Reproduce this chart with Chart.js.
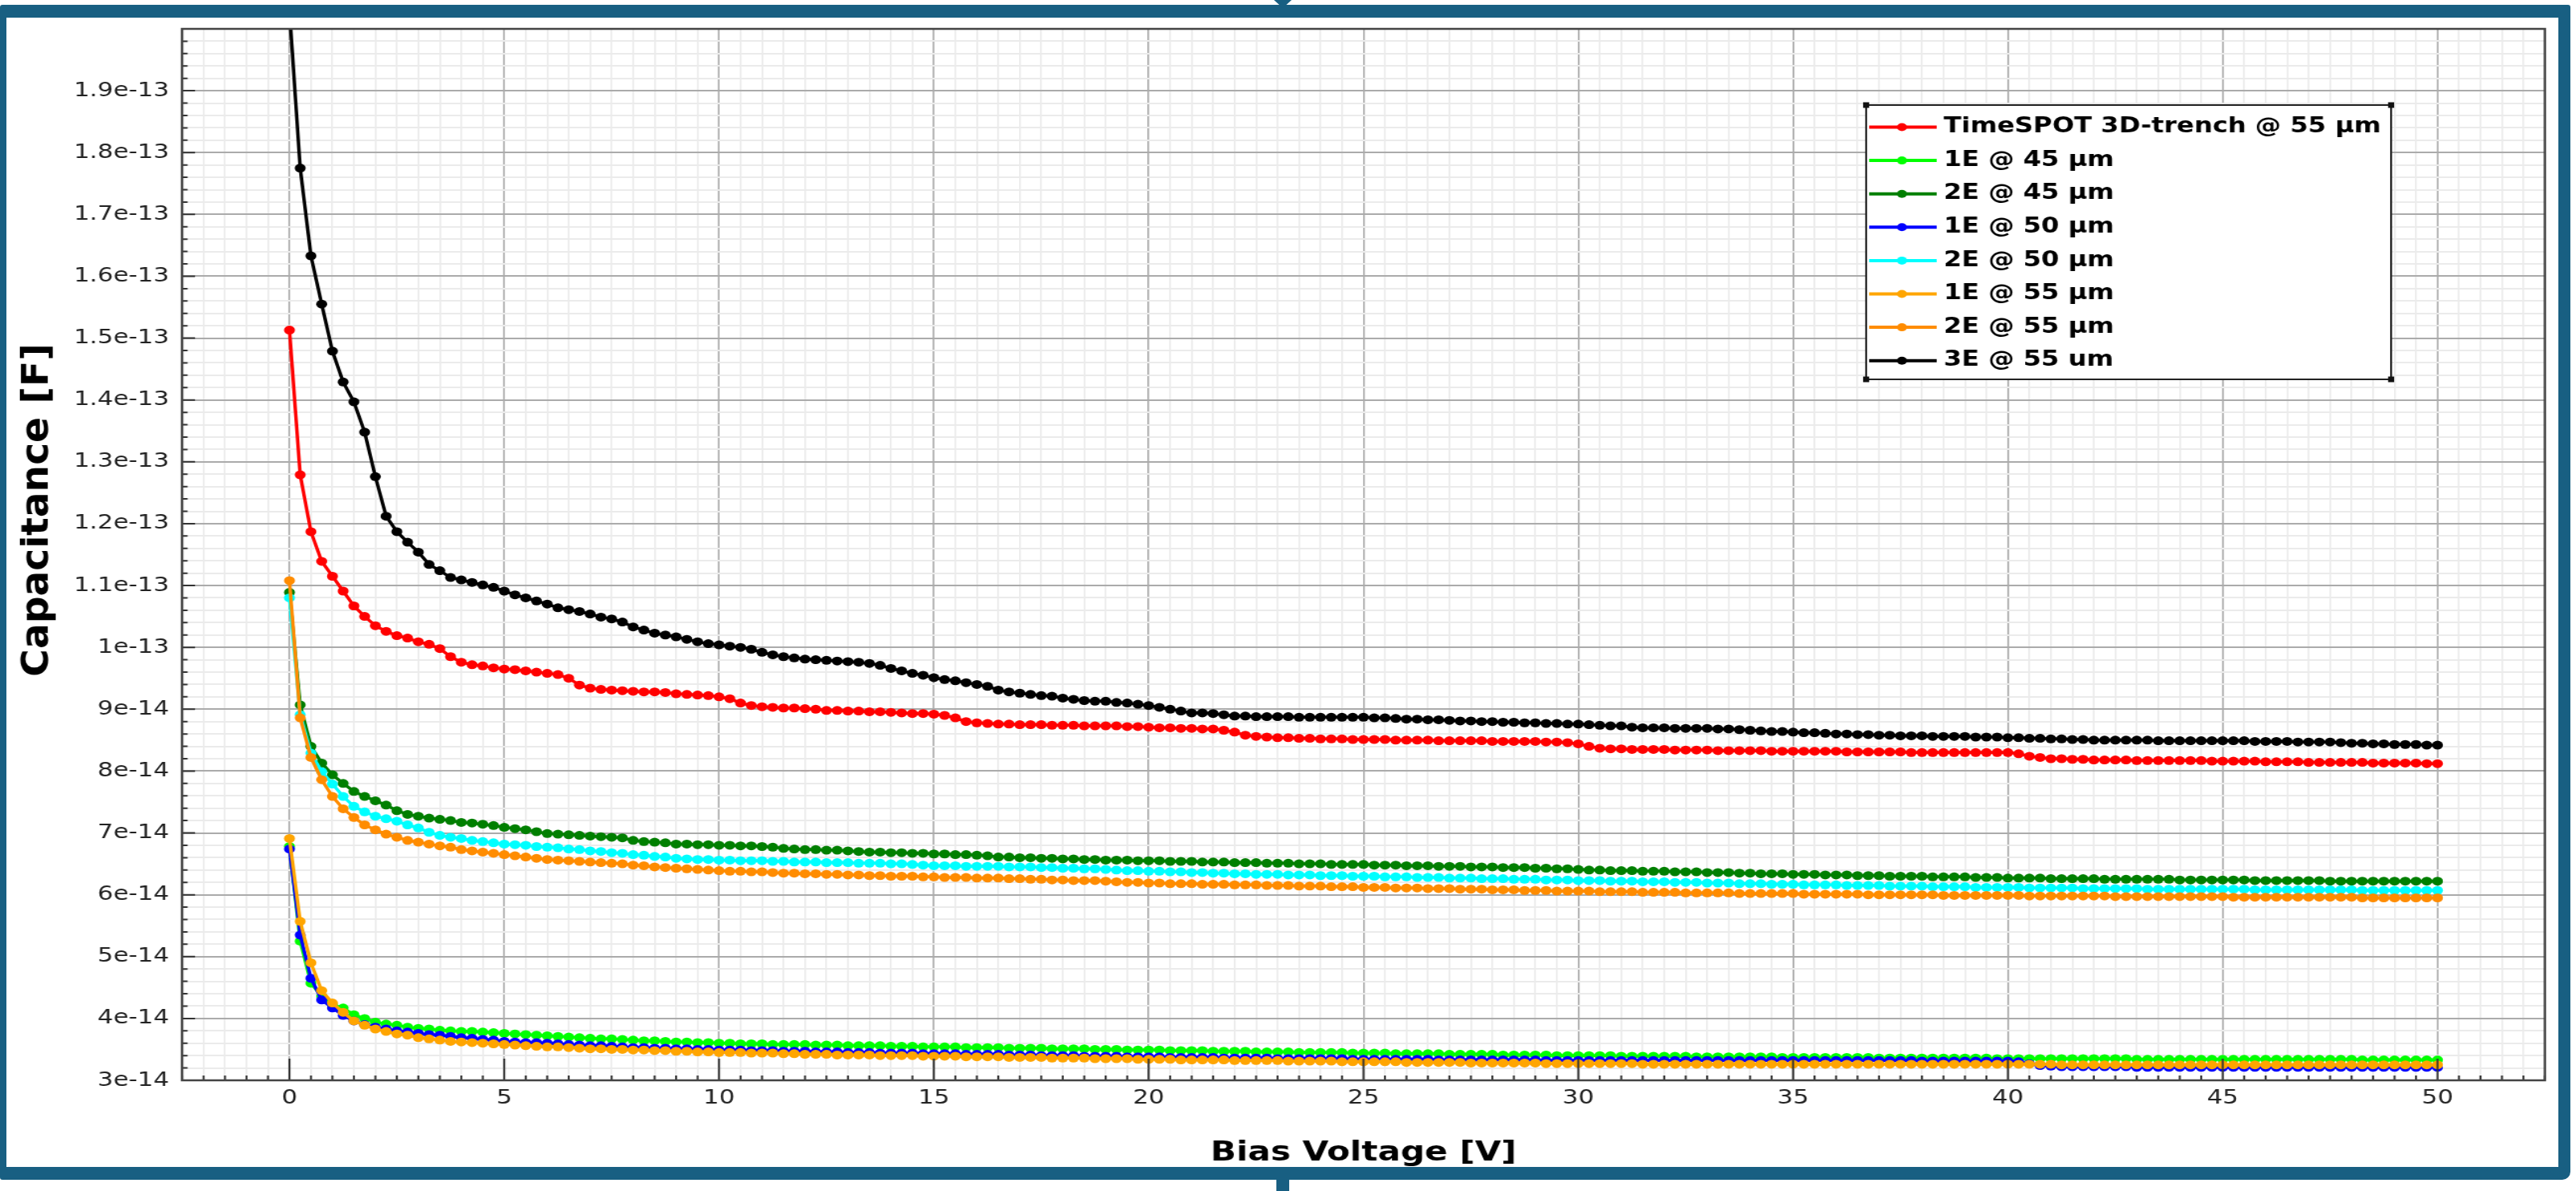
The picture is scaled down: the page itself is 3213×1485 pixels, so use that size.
<!DOCTYPE html>
<html>
<head>
<meta charset="utf-8">
<title>Capacitance vs Bias Voltage</title>
<script src="https://cdn.jsdelivr.net/npm/chart.js@4.4.1/dist/chart.umd.min.js"></script>
<style>
  html, body { margin: 0; padding: 0; background: #fff; overflow: hidden; }
  #wrap { position: relative; width: 3213px; height: 1485px; }
  #myChart { position: absolute; left: 0; top: 0; }
  .frame { position: absolute; left: 0; top: 6px; width: 3206px; height: 1465px; box-sizing: border-box;
           border-style: solid; border-color: #185f82; border-width: 16px 15px 16px 8px;
           border-radius: 3px 3px 10px 3px; pointer-events: none; }
  .tab { position: absolute; left: 1589px; top: 0; width: 0; height: 0;
         border-left: 11px solid transparent; border-right: 11px solid transparent; border-top: 10px solid #185f82; }
  .stub { position: absolute; left: 1592px; top: 1466px; width: 16px; height: 19px; background: #185f82; }
</style>
</head>
<body>
<div id="wrap">
  <canvas id="myChart" width="2591" height="1485" style="width:3213px;height:1485px"></canvas>
  <div class="frame"></div>
  <div class="tab"></div>
  <div class="stub"></div>
</div>
<script>
// Bias voltage steps [V]
const voltage = [
  0, 0.25, 0.5, 0.75, 1, 1.25, 1.5, 1.75, 2, 2.25, 2.5, 2.75, 3, 3.25, 3.5, 3.75, 4, 4.25, 4.5, 4.75,
  5, 5.25, 5.5, 5.75, 6, 6.25, 6.5, 6.75, 7, 7.25, 7.5, 7.75, 8, 8.25, 8.5, 8.75, 9, 9.25, 9.5, 9.75,
  10, 10.25, 10.5, 10.75, 11, 11.25, 11.5, 11.75, 12, 12.25, 12.5, 12.75, 13, 13.25, 13.5, 13.75, 14, 14.25, 14.5, 14.75,
  15, 15.25, 15.5, 15.75, 16, 16.25, 16.5, 16.75, 17, 17.25, 17.5, 17.75, 18, 18.25, 18.5, 18.75, 19, 19.25, 19.5, 19.75,
  20, 20.25, 20.5, 20.75, 21, 21.25, 21.5, 21.75, 22, 22.25, 22.5, 22.75, 23, 23.25, 23.5, 23.75, 24, 24.25, 24.5, 24.75,
  25, 25.25, 25.5, 25.75, 26, 26.25, 26.5, 26.75, 27, 27.25, 27.5, 27.75, 28, 28.25, 28.5, 28.75, 29, 29.25, 29.5, 29.75,
  30, 30.25, 30.5, 30.75, 31, 31.25, 31.5, 31.75, 32, 32.25, 32.5, 32.75, 33, 33.25, 33.5, 33.75, 34, 34.25, 34.5, 34.75,
  35, 35.25, 35.5, 35.75, 36, 36.25, 36.5, 36.75, 37, 37.25, 37.5, 37.75, 38, 38.25, 38.5, 38.75, 39, 39.25, 39.5, 39.75,
  40, 40.25, 40.5, 40.75, 41, 41.25, 41.5, 41.75, 42, 42.25, 42.5, 42.75, 43, 43.25, 43.5, 43.75, 44, 44.25, 44.5, 44.75,
  45, 45.25, 45.5, 45.75, 46, 46.25, 46.5, 46.75, 47, 47.25, 47.5, 47.75, 48, 48.25, 48.5, 48.75, 49, 49.25, 49.5, 49.75,
  50
];

// Capacitance values, in units of 1e-14 F
const timespot55 = [
  15.13, 12.79, 11.87, 11.39, 11.15, 10.91, 10.67, 10.50, 10.35, 10.26, 10.19, 10.15, 10.09, 10.05, 9.98, 9.85, 9.76, 9.72, 9.70, 9.67,
  9.65, 9.64, 9.62, 9.60, 9.58, 9.56, 9.50, 9.39, 9.34, 9.32, 9.31, 9.30, 9.29, 9.28, 9.28, 9.27, 9.25, 9.24, 9.23, 9.22,
  9.20, 9.17, 9.10, 9.06, 9.04, 9.03, 9.02, 9.02, 9.01, 9.00, 8.98, 8.98, 8.97, 8.97, 8.96, 8.96, 8.95, 8.94, 8.93, 8.93,
  8.92, 8.90, 8.86, 8.80, 8.78, 8.77, 8.76, 8.76, 8.75, 8.75, 8.75, 8.74, 8.74, 8.74, 8.73, 8.73, 8.73, 8.73, 8.72, 8.72,
  8.71, 8.70, 8.70, 8.69, 8.69, 8.68, 8.68, 8.66, 8.63, 8.58, 8.56, 8.55, 8.54, 8.54, 8.53, 8.53, 8.52, 8.52, 8.52, 8.51,
  8.51, 8.51, 8.51, 8.50, 8.50, 8.50, 8.50, 8.49, 8.49, 8.49, 8.49, 8.49, 8.48, 8.48, 8.48, 8.48, 8.48, 8.47, 8.47, 8.46,
  8.44, 8.40, 8.37, 8.36, 8.36, 8.35, 8.35, 8.35, 8.35, 8.34, 8.34, 8.34, 8.34, 8.33, 8.33, 8.33, 8.33, 8.33, 8.32, 8.32,
  8.32, 8.32, 8.32, 8.32, 8.32, 8.31, 8.31, 8.31, 8.31, 8.31, 8.31, 8.30, 8.30, 8.30, 8.30, 8.30, 8.30, 8.30, 8.30, 8.30,
  8.30, 8.28, 8.24, 8.22, 8.20, 8.20, 8.19, 8.19, 8.18, 8.18, 8.18, 8.18, 8.17, 8.17, 8.17, 8.17, 8.17, 8.17, 8.17, 8.16,
  8.16, 8.16, 8.16, 8.16, 8.15, 8.15, 8.15, 8.15, 8.14, 8.14, 8.14, 8.14, 8.14, 8.14, 8.13, 8.13, 8.13, 8.13, 8.13, 8.12,
  8.12
];
const e1at45 = [
  6.78, 5.25, 4.57, 4.36, 4.22, 4.17, 4.06, 4.00, 3.94, 3.91, 3.89, 3.86, 3.84, 3.83, 3.81, 3.80, 3.79, 3.79, 3.78, 3.77,
  3.76, 3.75, 3.74, 3.73, 3.72, 3.71, 3.70, 3.69, 3.68, 3.67, 3.67, 3.66, 3.65, 3.64, 3.64, 3.63, 3.62, 3.62, 3.61, 3.61,
  3.60, 3.60, 3.59, 3.59, 3.59, 3.58, 3.58, 3.58, 3.58, 3.57, 3.57, 3.57, 3.56, 3.56, 3.56, 3.56, 3.55, 3.55, 3.55, 3.54,
  3.54, 3.54, 3.54, 3.53, 3.53, 3.53, 3.53, 3.52, 3.52, 3.52, 3.52, 3.51, 3.51, 3.51, 3.51, 3.50, 3.50, 3.50, 3.49, 3.49,
  3.49, 3.49, 3.48, 3.48, 3.48, 3.48, 3.47, 3.47, 3.47, 3.47, 3.46, 3.46, 3.46, 3.46, 3.45, 3.45, 3.45, 3.45, 3.45, 3.44,
  3.44, 3.44, 3.44, 3.43, 3.43, 3.43, 3.43, 3.43, 3.42, 3.42, 3.42, 3.42, 3.42, 3.41, 3.41, 3.41, 3.41, 3.41, 3.40, 3.40,
  3.40, 3.40, 3.40, 3.40, 3.39, 3.39, 3.39, 3.39, 3.39, 3.39, 3.39, 3.38, 3.38, 3.38, 3.38, 3.38, 3.38, 3.38, 3.38, 3.37,
  3.37, 3.37, 3.37, 3.37, 3.37, 3.37, 3.37, 3.37, 3.36, 3.36, 3.36, 3.36, 3.36, 3.36, 3.36, 3.36, 3.36, 3.36, 3.36, 3.35,
  3.35, 3.35, 3.35, 3.35, 3.35, 3.35, 3.35, 3.35, 3.35, 3.35, 3.35, 3.35, 3.34, 3.34, 3.34, 3.34, 3.34, 3.34, 3.34, 3.34,
  3.34, 3.34, 3.34, 3.34, 3.34, 3.34, 3.34, 3.34, 3.34, 3.34, 3.34, 3.34, 3.34, 3.33, 3.33, 3.33, 3.33, 3.33, 3.33, 3.33,
  3.33
];
const e2at45 = [
  10.89, 9.07, 8.40, 8.13, 7.94, 7.80, 7.67, 7.59, 7.52, 7.45, 7.36, 7.30, 7.27, 7.24, 7.22, 7.20, 7.17, 7.16, 7.14, 7.12,
  7.09, 7.07, 7.05, 7.02, 6.99, 6.98, 6.97, 6.96, 6.95, 6.94, 6.93, 6.92, 6.88, 6.86, 6.85, 6.84, 6.82, 6.82, 6.81, 6.81,
  6.80, 6.80, 6.79, 6.79, 6.78, 6.77, 6.75, 6.74, 6.73, 6.73, 6.72, 6.72, 6.71, 6.70, 6.69, 6.69, 6.68, 6.68, 6.67, 6.67,
  6.66, 6.66, 6.65, 6.65, 6.64, 6.63, 6.61, 6.61, 6.60, 6.60, 6.59, 6.59, 6.58, 6.58, 6.57, 6.57, 6.56, 6.56, 6.56, 6.55,
  6.55, 6.55, 6.54, 6.54, 6.54, 6.53, 6.53, 6.53, 6.52, 6.52, 6.52, 6.51, 6.51, 6.51, 6.50, 6.50, 6.50, 6.49, 6.49, 6.49,
  6.49, 6.48, 6.48, 6.48, 6.47, 6.47, 6.47, 6.46, 6.46, 6.46, 6.45, 6.45, 6.45, 6.44, 6.44, 6.44, 6.43, 6.43, 6.42, 6.42,
  6.41, 6.40, 6.40, 6.39, 6.39, 6.39, 6.38, 6.38, 6.38, 6.37, 6.37, 6.37, 6.36, 6.36, 6.36, 6.35, 6.35, 6.34, 6.34, 6.34,
  6.33, 6.33, 6.33, 6.32, 6.32, 6.32, 6.31, 6.31, 6.31, 6.30, 6.30, 6.30, 6.30, 6.29, 6.29, 6.29, 6.29, 6.28, 6.28, 6.28,
  6.27, 6.27, 6.27, 6.27, 6.26, 6.26, 6.26, 6.26, 6.26, 6.25, 6.25, 6.25, 6.25, 6.25, 6.25, 6.25, 6.24, 6.24, 6.24, 6.24,
  6.24, 6.24, 6.24, 6.23, 6.23, 6.23, 6.23, 6.23, 6.23, 6.23, 6.22, 6.22, 6.22, 6.22, 6.22, 6.22, 6.22, 6.22, 6.22, 6.22,
  6.22
];
const e1at50 = [
  6.74, 5.35, 4.65, 4.30, 4.17, 4.05, 3.96, 3.90, 3.86, 3.83, 3.80, 3.78, 3.76, 3.74, 3.73, 3.71, 3.69, 3.68, 3.66, 3.65,
  3.63, 3.62, 3.61, 3.61, 3.60, 3.59, 3.58, 3.57, 3.56, 3.56, 3.55, 3.54, 3.53, 3.53, 3.52, 3.52, 3.51, 3.51, 3.50, 3.50,
  3.49, 3.49, 3.49, 3.48, 3.48, 3.48, 3.47, 3.47, 3.47, 3.46, 3.46, 3.46, 3.45, 3.45, 3.45, 3.44, 3.44, 3.44, 3.44, 3.43,
  3.43, 3.43, 3.43, 3.42, 3.42, 3.42, 3.42, 3.41, 3.41, 3.41, 3.40, 3.40, 3.40, 3.40, 3.39, 3.39, 3.39, 3.39, 3.38, 3.38,
  3.38, 3.38, 3.37, 3.37, 3.37, 3.37, 3.37, 3.36, 3.36, 3.36, 3.36, 3.36, 3.35, 3.35, 3.35, 3.35, 3.35, 3.35, 3.35, 3.34,
  3.34, 3.34, 3.34, 3.34, 3.34, 3.34, 3.34, 3.33, 3.33, 3.33, 3.33, 3.33, 3.33, 3.33, 3.33, 3.33, 3.33, 3.32, 3.32, 3.32,
  3.32, 3.32, 3.32, 3.32, 3.32, 3.32, 3.32, 3.32, 3.32, 3.32, 3.32, 3.32, 3.32, 3.32, 3.32, 3.32, 3.32, 3.32, 3.32, 3.32,
  3.32, 3.32, 3.32, 3.32, 3.32, 3.32, 3.32, 3.32, 3.32, 3.32, 3.32, 3.32, 3.31, 3.31, 3.31, 3.31, 3.31, 3.31, 3.31, 3.31,
  3.31, 3.30, 3.27, 3.24, 3.23, 3.22, 3.22, 3.22, 3.22, 3.22, 3.22, 3.22, 3.21, 3.21, 3.21, 3.21, 3.21, 3.21, 3.21, 3.21,
  3.21, 3.21, 3.21, 3.21, 3.21, 3.21, 3.21, 3.21, 3.21, 3.21, 3.21, 3.21, 3.21, 3.21, 3.21, 3.21, 3.21, 3.21, 3.21, 3.21,
  3.21
];
const e2at50 = [
  10.80, 8.91, 8.29, 7.99, 7.79, 7.59, 7.43, 7.34, 7.27, 7.23, 7.19, 7.13, 7.08, 7.01, 6.96, 6.93, 6.91, 6.88, 6.86, 6.84,
  6.82, 6.81, 6.80, 6.78, 6.77, 6.76, 6.74, 6.73, 6.71, 6.70, 6.68, 6.67, 6.65, 6.64, 6.62, 6.61, 6.59, 6.58, 6.57, 6.57,
  6.56, 6.56, 6.55, 6.55, 6.55, 6.54, 6.54, 6.53, 6.53, 6.53, 6.52, 6.52, 6.52, 6.51, 6.51, 6.51, 6.50, 6.50, 6.49, 6.48,
  6.47, 6.47, 6.47, 6.46, 6.46, 6.46, 6.46, 6.45, 6.45, 6.45, 6.44, 6.44, 6.43, 6.43, 6.42, 6.42, 6.41, 6.40, 6.39, 6.39,
  6.38, 6.38, 6.37, 6.37, 6.36, 6.36, 6.35, 6.35, 6.34, 6.34, 6.33, 6.33, 6.33, 6.32, 6.32, 6.32, 6.31, 6.31, 6.31, 6.30,
  6.30, 6.30, 6.29, 6.29, 6.29, 6.28, 6.28, 6.28, 6.27, 6.27, 6.27, 6.26, 6.26, 6.26, 6.25, 6.25, 6.25, 6.24, 6.24, 6.24,
  6.23, 6.23, 6.23, 6.22, 6.22, 6.22, 6.21, 6.21, 6.21, 6.20, 6.20, 6.20, 6.19, 6.19, 6.19, 6.18, 6.18, 6.18, 6.17, 6.17,
  6.17, 6.16, 6.16, 6.16, 6.16, 6.15, 6.15, 6.15, 6.15, 6.14, 6.14, 6.14, 6.14, 6.13, 6.13, 6.13, 6.13, 6.12, 6.12, 6.12,
  6.12, 6.12, 6.11, 6.11, 6.11, 6.11, 6.11, 6.10, 6.10, 6.10, 6.10, 6.10, 6.10, 6.09, 6.09, 6.09, 6.09, 6.09, 6.09, 6.09,
  6.09, 6.09, 6.09, 6.08, 6.08, 6.08, 6.08, 6.08, 6.08, 6.08, 6.08, 6.08, 6.08, 6.07, 6.07, 6.07, 6.07, 6.07, 6.07, 6.07,
  6.07
];
const e1at55 = [
  6.91, 5.57, 4.90, 4.45, 4.25, 4.10, 3.96, 3.89, 3.83, 3.79, 3.75, 3.73, 3.69, 3.67, 3.65, 3.63, 3.62, 3.61, 3.60, 3.59,
  3.58, 3.57, 3.56, 3.55, 3.54, 3.54, 3.53, 3.52, 3.51, 3.51, 3.50, 3.50, 3.49, 3.49, 3.48, 3.48, 3.47, 3.47, 3.46, 3.46,
  3.45, 3.45, 3.45, 3.44, 3.44, 3.44, 3.43, 3.43, 3.42, 3.42, 3.42, 3.41, 3.41, 3.41, 3.41, 3.40, 3.40, 3.40, 3.40, 3.39,
  3.39, 3.39, 3.39, 3.38, 3.38, 3.38, 3.38, 3.37, 3.37, 3.37, 3.37, 3.36, 3.36, 3.36, 3.36, 3.35, 3.35, 3.35, 3.35, 3.34,
  3.34, 3.34, 3.34, 3.33, 3.33, 3.33, 3.33, 3.33, 3.32, 3.32, 3.32, 3.32, 3.32, 3.31, 3.31, 3.31, 3.31, 3.31, 3.30, 3.30,
  3.30, 3.30, 3.30, 3.30, 3.29, 3.29, 3.29, 3.29, 3.29, 3.29, 3.28, 3.28, 3.28, 3.28, 3.28, 3.28, 3.28, 3.27, 3.27, 3.27,
  3.27, 3.27, 3.27, 3.27, 3.27, 3.27, 3.26, 3.26, 3.26, 3.26, 3.26, 3.26, 3.26, 3.26, 3.26, 3.26, 3.26, 3.26, 3.26, 3.26,
  3.26, 3.26, 3.26, 3.26, 3.26, 3.26, 3.26, 3.26, 3.26, 3.26, 3.26, 3.26, 3.26, 3.26, 3.26, 3.26, 3.26, 3.26, 3.26, 3.26,
  3.26, 3.26, 3.26, 3.26, 3.26, 3.25, 3.25, 3.25, 3.25, 3.25, 3.25, 3.25, 3.25, 3.25, 3.25, 3.25, 3.25, 3.25, 3.25, 3.25,
  3.25, 3.25, 3.25, 3.25, 3.25, 3.25, 3.25, 3.25, 3.25, 3.25, 3.25, 3.25, 3.25, 3.25, 3.25, 3.25, 3.25, 3.25, 3.25, 3.25,
  3.25
];
const e2at55 = [
  11.08, 8.86, 8.22, 7.86, 7.59, 7.39, 7.25, 7.13, 7.05, 6.98, 6.93, 6.88, 6.85, 6.82, 6.79, 6.77, 6.73, 6.71, 6.69, 6.67,
  6.65, 6.63, 6.61, 6.59, 6.57, 6.56, 6.55, 6.54, 6.53, 6.52, 6.51, 6.50, 6.48, 6.47, 6.45, 6.44, 6.43, 6.42, 6.41, 6.40,
  6.39, 6.38, 6.38, 6.37, 6.37, 6.36, 6.35, 6.35, 6.34, 6.34, 6.33, 6.33, 6.32, 6.32, 6.31, 6.31, 6.30, 6.30, 6.30, 6.29,
  6.29, 6.28, 6.28, 6.28, 6.27, 6.27, 6.27, 6.26, 6.26, 6.25, 6.25, 6.24, 6.24, 6.23, 6.23, 6.23, 6.22, 6.21, 6.20, 6.20,
  6.19, 6.19, 6.18, 6.18, 6.18, 6.17, 6.17, 6.17, 6.16, 6.16, 6.16, 6.15, 6.15, 6.15, 6.14, 6.14, 6.14, 6.13, 6.13, 6.13,
  6.12, 6.12, 6.12, 6.11, 6.11, 6.11, 6.10, 6.10, 6.10, 6.09, 6.09, 6.09, 6.08, 6.08, 6.08, 6.07, 6.07, 6.07, 6.06, 6.06,
  6.06, 6.06, 6.05, 6.05, 6.05, 6.05, 6.04, 6.04, 6.04, 6.04, 6.03, 6.03, 6.03, 6.03, 6.03, 6.02, 6.02, 6.02, 6.02, 6.02,
  6.02, 6.01, 6.01, 6.01, 6.01, 6.01, 6.01, 6.00, 6.00, 6.00, 6.00, 6.00, 6.00, 6.00, 5.99, 5.99, 5.99, 5.99, 5.99, 5.99,
  5.99, 5.99, 5.98, 5.98, 5.98, 5.98, 5.98, 5.98, 5.98, 5.98, 5.97, 5.97, 5.97, 5.97, 5.97, 5.97, 5.97, 5.97, 5.97, 5.97,
  5.97, 5.96, 5.96, 5.96, 5.96, 5.96, 5.96, 5.96, 5.96, 5.96, 5.96, 5.96, 5.96, 5.95, 5.95, 5.95, 5.95, 5.95, 5.95, 5.95,
  5.95
];
const e3at55 = [
  20.30, 17.75, 16.33, 15.55, 14.79, 14.29, 13.97, 13.48, 12.76, 12.12, 11.87, 11.70, 11.54, 11.34, 11.24, 11.13, 11.09, 11.05, 11.01, 10.97,
  10.91, 10.85, 10.80, 10.75, 10.70, 10.64, 10.61, 10.58, 10.54, 10.49, 10.46, 10.41, 10.33, 10.28, 10.23, 10.20, 10.17, 10.13, 10.09, 10.06,
  10.04, 10.02, 10.00, 9.97, 9.92, 9.88, 9.85, 9.83, 9.81, 9.80, 9.79, 9.78, 9.77, 9.76, 9.74, 9.71, 9.66, 9.62, 9.58, 9.55,
  9.51, 9.48, 9.46, 9.43, 9.40, 9.37, 9.31, 9.28, 9.26, 9.24, 9.22, 9.21, 9.18, 9.16, 9.14, 9.13, 9.13, 9.11, 9.10, 9.08,
  9.06, 9.03, 9.00, 8.97, 8.94, 8.94, 8.93, 8.91, 8.89, 8.89, 8.88, 8.88, 8.88, 8.88, 8.87, 8.87, 8.87, 8.87, 8.87, 8.87,
  8.87, 8.86, 8.86, 8.85, 8.84, 8.84, 8.83, 8.83, 8.82, 8.81, 8.81, 8.80, 8.80, 8.79, 8.79, 8.78, 8.78, 8.77, 8.77, 8.76,
  8.76, 8.75, 8.74, 8.73, 8.73, 8.71, 8.70, 8.70, 8.70, 8.69, 8.69, 8.69, 8.69, 8.68, 8.68, 8.67, 8.66, 8.65, 8.64, 8.64,
  8.63, 8.62, 8.62, 8.61, 8.60, 8.60, 8.59, 8.59, 8.58, 8.58, 8.57, 8.57, 8.57, 8.56, 8.56, 8.56, 8.56, 8.55, 8.55, 8.55,
  8.54, 8.54, 8.53, 8.53, 8.52, 8.52, 8.51, 8.51, 8.50, 8.50, 8.50, 8.50, 8.50, 8.50, 8.49, 8.49, 8.49, 8.49, 8.49, 8.49,
  8.49, 8.49, 8.49, 8.48, 8.48, 8.48, 8.48, 8.47, 8.47, 8.47, 8.47, 8.46, 8.45, 8.45, 8.44, 8.44, 8.43, 8.43, 8.43, 8.42,
  8.42
];

const seriesLabels = ['TimeSPOT 3D-trench @ 55 \u03bcm', '1E @ 45 \u03bcm', '2E @ 45 \u03bcm', '1E @ 50 \u03bcm',
                      '2E @ 50 \u03bcm', '1E @ 55 \u03bcm', '2E @ 55 \u03bcm', '3E @ 55 um'];
const seriesValues = [timespot55, e1at45, e2at45, e1at50, e2at50, e1at55, e2at55, e3at55];
const seriesColors = ['#ff0000', '#00ff00', '#007f00', '#0000ff', '#00ffff', '#ffa500', '#ff8c00', '#000000'];

const FONT = 'DejaVu Sans';
const ctx = document.getElementById('myChart');

// builds one dataset per series, later ones drawn on top
const datasets = seriesValues.map(function(vals, i){
  return {
    label: seriesLabels[i],
    data: voltage.map((v, k) => ({x: v, y: vals[k]})),
    showLine: true,
    borderColor: seriesColors[i],
    backgroundColor: seriesColors[i],
    borderWidth: 3.5,
    pointRadius: 5.5,
    pointBorderWidth: 0,
    pointBackgroundColor: seriesColors[i],
    order: seriesValues.length - i
  };
});

function isMajor(v, step){
  const r = v / step;
  return Math.abs(r - Math.round(r)) < 1e-6;
}

// inward tick marks and the box round the plot
const axisMarks = {
  id: 'axisMarks',
  afterDatasetsDraw(chart){
    const c = chart.ctx, a = chart.chartArea, x = chart.scales.x, y = chart.scales.y;
    c.save();
    c.strokeStyle = '#333';
    c.lineWidth = 2;
    c.beginPath();
    x.ticks.forEach(function(t){
      const px = x.getPixelForValue(t.value);
      const len = isMajor(t.value, 5) ? 27 : 6;
      c.moveTo(px, a.bottom);
      c.lineTo(px, a.bottom - len);
    });
    y.ticks.forEach(function(t){
      const py = y.getPixelForValue(t.value);
      const len = isMajor(t.value, 1) ? 13 : 5.5;
      c.moveTo(a.left, py);
      c.lineTo(a.left + len, py);
    });
    c.stroke();
    c.strokeStyle = '#444';
    c.lineWidth = 2.5;
    c.strokeRect(a.left, a.top, a.right - a.left, a.bottom - a.top);
    c.restore();
  }
};

// y axis title, drawn wide along its length like the rest of the figure text
const yTitle = {
  id: 'yTitle',
  afterDraw(chart){
    const c = chart.ctx;
    c.save();
    c.translate(38, 636);
    c.rotate(-Math.PI / 2);
    c.scale(1.24, 1);
    c.font = 'bold 38px "' + FONT + '"';
    c.fillStyle = '#000';
    c.textAlign = 'center';
    c.textBaseline = 'middle';
    c.fillText('Capacitance [F]', 0, 0);
    c.restore();
  }
};

// legend box inside the plot, top right
const legendBox = {
  id: 'legendBox',
  afterDraw(chart){
    const c = chart.ctx;
    const bx = 1877, by = 131, bw = 528, bh = 342;
    c.save();
    c.fillStyle = '#fff';
    c.fillRect(bx, by, bw, bh);
    c.strokeStyle = '#222';
    c.lineWidth = 2;
    c.strokeRect(bx, by, bw, bh);
    c.fillStyle = '#111';
    [[bx, by], [bx + bw, by], [bx, by + bh], [bx + bw, by + bh]].forEach(function(p){
      c.fillRect(p[0] - 3, p[1] - 3.5, 6, 7);
    });
    c.font = 'bold 26px "' + FONT + '"';
    c.textBaseline = 'middle';
    chart.data.datasets.forEach(function(ds, i){
      const yy = 158.5 + i * 41.6;
      c.strokeStyle = ds.borderColor;
      c.lineWidth = 4;
      c.beginPath();
      c.moveTo(bx + 3, yy);
      c.lineTo(bx + 71, yy);
      c.stroke();
      c.fillStyle = ds.borderColor;
      c.beginPath();
      c.arc(bx + 36, yy, 5, 0, Math.PI * 2);
      c.fill();
      c.fillStyle = '#000';
      c.fillText(ds.label, bx + 78, yy);
    });
    c.restore();
  }
};

new Chart(ctx, {
  type: 'scatter',
  data: { datasets: datasets },
  options: {
    responsive: false,
    animation: false,
    devicePixelRatio: 1,
    layout: { padding: { left: 0, right: 31.3, top: 36, bottom: 0 } },
    plugins: { legend: { display: false }, tooltip: { enabled: false } },
    scales: {
      x: {
        type: 'linear',
        min: -2.5,
        max: 52.5,
        afterFit: function(s){ s.height = 138; },
        ticks: {
          stepSize: 0.5,
          autoSkip: false,
          maxRotation: 0,
          padding: 7,
          color: '#222',
          font: { family: FONT, size: 25 },
          callback: v => isMajor(v, 5) ? String(v) : ''
        },
        grid: {
          drawTicks: false,
          color: c => isMajor(c.tick.value, 5) ? '#ababab' : '#ebebeb',
          lineWidth: 1.7
        },
        border: { display: false },
        title: {
          display: true,
          text: 'Bias Voltage [V]',
          color: '#000',
          font: { family: FONT, size: 34, weight: 'bold' },
          padding: { top: 0, bottom: 26 }
        }
      },
      y: {
        type: 'linear',
        min: 3,
        max: 20,
        afterFit: function(s){ s.width = 183.1; },
        ticks: {
          stepSize: 0.2,
          autoSkip: false,
          padding: 13,
          color: '#222',
          font: { family: FONT, size: 25 },
          callback: function(v){
            const n = Math.round(v * 10);
            if (n % 10 !== 0 || n === 200) return '';
            const k = n / 10;
            return k >= 10 ? (k / 10) + 'e-13' : k + 'e-14';
          }
        },
        grid: {
          drawTicks: false,
          color: c => isMajor(c.tick.value, 1) ? '#ababab' : '#ebebeb',
          lineWidth: 2
        },
        border: { display: false },
        title: { display: false }
      }
    }
  },
  plugins: [axisMarks, yTitle, legendBox]
});
</script>
</body>
</html>
